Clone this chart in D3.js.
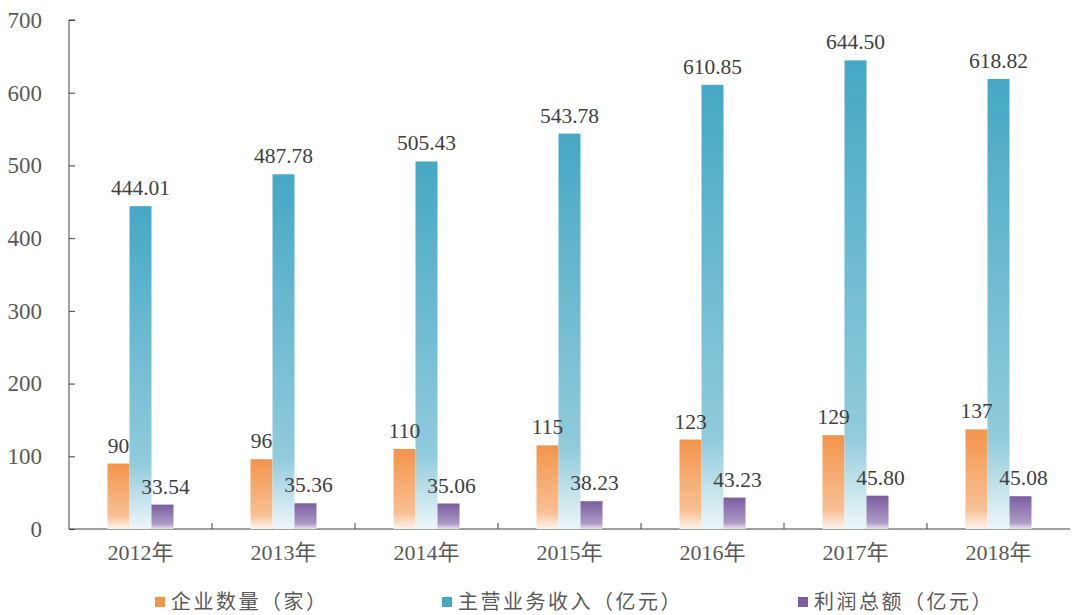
<!DOCTYPE html>
<html>
<head>
<meta charset="utf-8">
<script src="https://cdn.jsdelivr.net/npm/d3@7"></script>
<style>
  body { margin: 0; background: #fff; }
  .axis text { font-family: "Liberation Serif", "Noto Sans CJK SC", serif; fill: #595959; }
  .axis--y text { font-size: 23px; }
  .axis--x text { font-size: 22px; }
  .axis path, .axis line { stroke: #404040; }
  .lbl { font-family: "Liberation Serif", serif; font-size: 21.5px; fill: #404040; }
  .legend text { font-family: "Noto Sans CJK SC", sans-serif; font-size: 20px; letter-spacing: 2.5px; fill: #595959; }
</style>
</head>
<body>
<svg id="chart" width="1075" height="615"></svg>
<script>
// Data
var years = ["2012年", "2013年", "2014年", "2015年", "2016年", "2017年", "2018年"];
var companies = [90, 96, 110, 115, 123, 129, 137];
var revenue = [444.01, 487.78, 505.43, 543.78, 610.85, 644.50, 618.82];
var profit = [33.54, 35.36, 35.06, 38.23, 43.23, 45.80, 45.08];
var seriesNames = ["企业数量（家）", "主营业务收入（亿元）", "利润总额（亿元）"];
var yTicks = [0, 100, 200, 300, 400, 500, 600, 700];

var series = [
  {key: "c", name: seriesNames[0], values: companies, fmt: d3.format("d"), top: "#f4944a", bottom: "#fdf5ee"},
  {key: "r", name: seriesNames[1], values: revenue, fmt: d3.format(".2f"), top: "#45a8c4", bottom: "#eef6f9"},
  {key: "p", name: seriesNames[2], values: profit, fmt: d3.format(".2f"), top: "#7a5ea0", bottom: "#ebe4f0"}
];

var svg = d3.select("#chart"),
    margin = {top: 20, right: 5, bottom: 86, left: 69},
    width = +svg.attr("width") - margin.left - margin.right,
    height = +svg.attr("height") - margin.top - margin.bottom,
    g = svg.append("g").attr("transform", "translate(" + margin.left + "," + margin.top + ")");

// Gradients for the bars (dark at top, fading to white at bottom)
var defs = svg.append("defs");
series.forEach(function(s) {
  var grad = defs.append("linearGradient")
      .attr("id", "grad-" + s.key)
      .attr("x1", 0).attr("y1", 0).attr("x2", 0).attr("y2", 1);
  grad.append("stop").attr("offset", "0%").attr("stop-color", s.top);
  grad.append("stop").attr("offset", "80%").attr("stop-color", d3.interpolateRgb(s.top, s.bottom)(0.45));
  grad.append("stop").attr("offset", "100%").attr("stop-color", s.bottom);
});

var x0 = d3.scaleBand().domain(years).range([0, width]).paddingInner(0).paddingOuter(0);
var bw = 22;
var x1 = d3.scaleBand().domain(series.map(function(s) { return s.key; }))
    .range([x0.bandwidth() / 2 - bw * 1.5, x0.bandwidth() / 2 + bw * 1.5]);

var y = d3.scaleLinear().domain([0, 700]).range([height, 0]);

// y axis
g.append("g")
    .attr("class", "axis axis--y")
    .call(d3.axisLeft(y).tickValues(yTicks).tickSizeInner(-6).tickSizeOuter(-6).tickPadding(27))
  .select(".domain").attr("d", "M0," + height + "V0h6");

// x axis with ticks between groups
var xAxis = g.append("g")
    .attr("class", "axis axis--x")
    .attr("transform", "translate(0," + height + ")")
    .call(d3.axisBottom(x0).tickSize(0).tickPadding(15));
xAxis.select(".domain").attr("d", "M0,0H" + width);
xAxis.selectAll(".sep")
    .data(years.slice(1))
  .enter().append("line")
    .attr("class", "sep")
    .attr("x1", function(d) { return x0(d); })
    .attr("x2", function(d) { return x0(d); })
    .attr("y1", 0).attr("y2", -6);

// bars
var groups = g.selectAll(".grp")
    .data(years)
  .enter().append("g")
    .attr("class", "grp")
    .attr("transform", function(d) { return "translate(" + x0(d) + ",0)"; });

series.forEach(function(s) {
  groups.append("rect")
      .attr("x", x1(s.key))
      .attr("width", x1.bandwidth())
      .attr("y", function(d, i) { return y(s.values[i]); })
      .attr("height", function(d, i) { return height - y(s.values[i]); })
      .attr("fill", "url(#grad-" + s.key + ")");
});

// value labels
series.forEach(function(s) {
  groups.append("text")
      .attr("class", "lbl")
      .attr("text-anchor", "middle")
      .attr("x", x1(s.key) + x1.bandwidth() / 2 + (s.key === "p" ? 3 : 0))
      .attr("y", function(d, i) { return y(s.values[i]) - 11; })
      .text(function(d, i) { return s.fmt(s.values[i]); });
});

// legend
var legendX = [155, 442, 798];
var legend = svg.append("g").attr("class", "legend");
series.forEach(function(s, i) {
  var item = legend.append("g").attr("transform", "translate(" + legendX[i] + ",597)");
  item.append("rect").attr("width", 10).attr("height", 10).attr("fill", s.top);
  item.append("text").attr("x", 16).attr("y", 12).text(s.name);
});
</script>
</body>
</html>
